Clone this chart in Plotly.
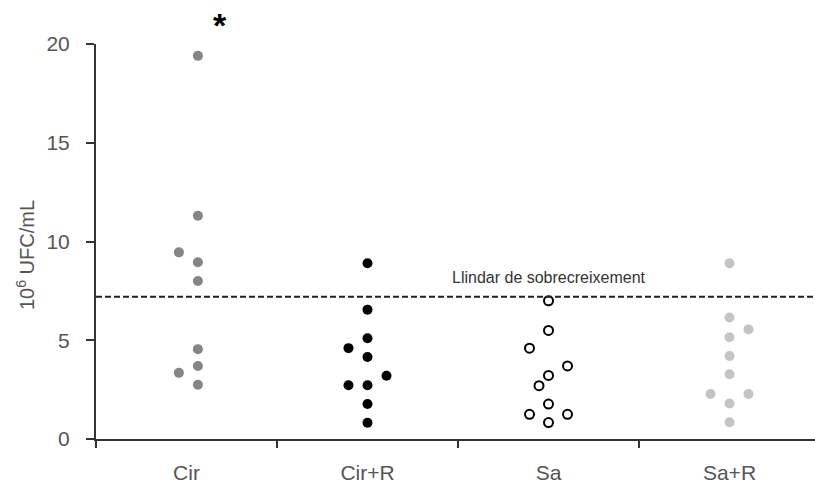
import plotly.graph_objects as go

# ---- data ----
groups = ["Cir", "Cir+R", "Sa", "Sa+R"]

cir_vals = [19.4, 11.3, 9.45, 8.95, 8.0, 4.55, 3.7, 3.35, 2.75]
cir_cols = [0.6, 0.6, -0.4, 0.6, 0.6, 0.6, 0.6, -0.4, 0.6]

cirr_vals = [8.9, 6.55, 5.1, 4.6, 4.15, 3.2, 2.72, 2.72, 1.77, 0.82]
cirr_cols = [0, 0, 0, -1, 0, 1, -1, 0, 0, 0]

sa_vals = [7.0, 5.5, 4.6, 3.7, 3.22, 2.7, 1.77, 1.25, 1.25, 0.83]
sa_cols = [0, 0, -1, 1, 0, -0.5, 0, -1, 1, 0]

sar_vals = [8.9, 6.15, 5.55, 5.15, 4.2, 3.28, 2.28, 2.28, 1.8, 0.85]
sar_cols = [0, 0, 1, 0, 0, 0, -1, 1, 0, 0]

threshold = 7.2
threshold_label = "Llindar de sobrecreixement"
y_ticks = [0, 5, 10, 15, 20]

# ---- styling ----
STEP = 0.105
FONT = "Liberation Sans, Arial, sans-serif"

series = [
    (cir_vals, cir_cols, dict(color="#858585", size=10, line=dict(width=0))),
    (cirr_vals, cirr_cols, dict(color="#000000", size=10, line=dict(width=0))),
    (sa_vals, sa_cols, dict(color="#ffffff", size=9, line=dict(color="#000000", width=2))),
    (sar_vals, sar_cols, dict(color="#c4c4c4", size=10, line=dict(width=0))),
]

fig = go.Figure()
for gi, (vals, cols, mk) in enumerate(series):
    xs = [gi + 0.5 + c * STEP for c in cols]
    fig.add_trace(go.Scatter(x=xs, y=vals, mode="markers", marker=mk,
                             cliponaxis=False, showlegend=False, hoverinfo="y"))

XMAX = 719 / 181
fig.add_shape(type="line", xref="x", yref="y", x0=0, x1=XMAX, y0=threshold, y1=threshold,
              line=dict(color="#222222", width=2, dash="6px,3px"))

fig.add_annotation(x=2.5, y=threshold, yshift=19, text=threshold_label, showarrow=False,
                   font=dict(family=FONT, size=16, color="#333333"))
fig.add_annotation(xref="x", yref="paper", x=0.685, y=(439 - 25) / 395,
                   xanchor="center", yanchor="middle", text="<b>*</b>", showarrow=False,
                   font=dict(family=FONT, size=34, color="#000000"))
fig.add_annotation(xref="paper", yref="paper", x=(26 - 96) / 719, y=(439 - 255) / 395,
                   xanchor="center", yanchor="middle",
                   text="10<sup>6</sup> UFC/mL", textangle=-90, showarrow=False,
                   font=dict(family=FONT, size=20, color="#555555"))

fig.update_layout(
    width=815, height=486,
    margin=dict(l=96, r=0, t=44, b=47),
    paper_bgcolor="white", plot_bgcolor="white",
    font=dict(family=FONT, color="#555555"),
    xaxis=dict(range=[0, XMAX], tickmode="array",
               tickvals=[i + 0.5 for i in range(len(groups))], ticktext=groups,
               ticks="", showgrid=False, zeroline=False,
               showline=True, linecolor="#333333", linewidth=2,
               tickfont=dict(size=21, color="#555555"), ticklabelstandoff=14,
               minor=dict(tickmode="array", tickvals=list(range(len(groups))),
                          ticks="outside", ticklen=7, tickwidth=2, tickcolor="#333333",
                          showgrid=False)),
    yaxis=dict(range=[0, 20], tickmode="array", tickvals=y_ticks,
               ticks="outside", ticklen=8, tickwidth=2, tickcolor="#333333",
               showgrid=False, zeroline=False,
               showline=True, linecolor="#333333", linewidth=2,
               tickfont=dict(size=21, color="#555555"), ticklabelstandoff=12),
)

fig.write_html("out.html")
